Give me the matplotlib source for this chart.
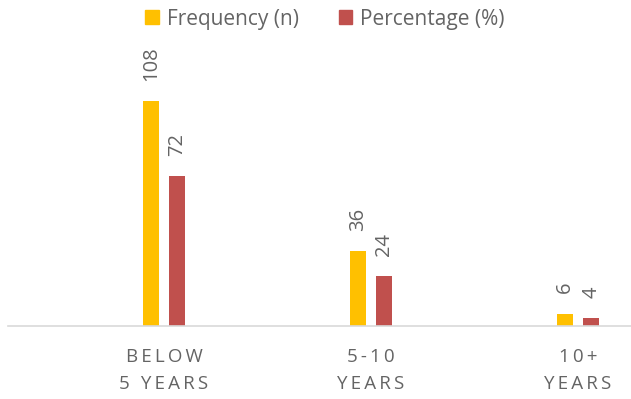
import matplotlib.pyplot as plt
from matplotlib.patches import Patch
import numpy as np

categories = ['BELOW\n5 YEARS', '5-10\nYEARS', '10+\nYEARS']
frequency = [108, 36, 6]
percentage = [72, 24, 4]

yellow = '#FFC000'
red = '#C0504D'
grey = '#646464'

plt.rcParams['font.family'] = ['Open Sans', 'DejaVu Sans']


def spaced(label):
    # wide letter spacing for the category names
    return '\n'.join('\u2009'.join(line) for line in label.split('\n'))


fig = plt.figure(figsize=(6.31, 3.99), dpi=100)
ax = fig.add_axes([8 / 631, 73 / 399, 623 / 631, 286 / 399])

x = np.arange(len(categories))
w = 0.077
off = 0.064
b1 = ax.bar(x - off, frequency, w, color=yellow)
b2 = ax.bar(x + off, percentage, w, color=red)

for bars, vals in ((b1, frequency), (b2, percentage)):
    for rect, v in zip(bars, vals):
        ax.annotate(str(v), (rect.get_x() + rect.get_width() / 2, rect.get_height()),
                    xytext=(0, 14.5), textcoords='offset points', rotation=90,
                    ha='center', va='bottom', fontsize=14.5, color=grey)

ax.set_xlim(-0.754, 2.256)
ax.set_ylim(0, 137.5)
ax.set_xticks(x)
ax.set_xticklabels([spaced(c) for c in categories], fontsize=13.5, color=grey,
                   linespacing=1.6)
ax.tick_params(axis='x', length=0, pad=16)
ax.set_yticks([])
for s in ('top', 'right', 'left'):
    ax.spines[s].set_visible(False)
ax.spines['bottom'].set_color('#D9D9D9')
ax.spines['bottom'].set_linewidth(1.2)

handles = [Patch(color=yellow, label='Frequency (n)'),
           Patch(color=red, label='Percentage (%)')]
fig.legend(handles=handles, loc='center', bbox_to_anchor=(0.515, 0.952), ncol=2,
           frameon=False, fontsize=15, handlelength=0.65, handleheight=0.65,
           handletextpad=0.4, columnspacing=1.9, labelcolor=grey)

fig.savefig('out.png', dpi=100)
